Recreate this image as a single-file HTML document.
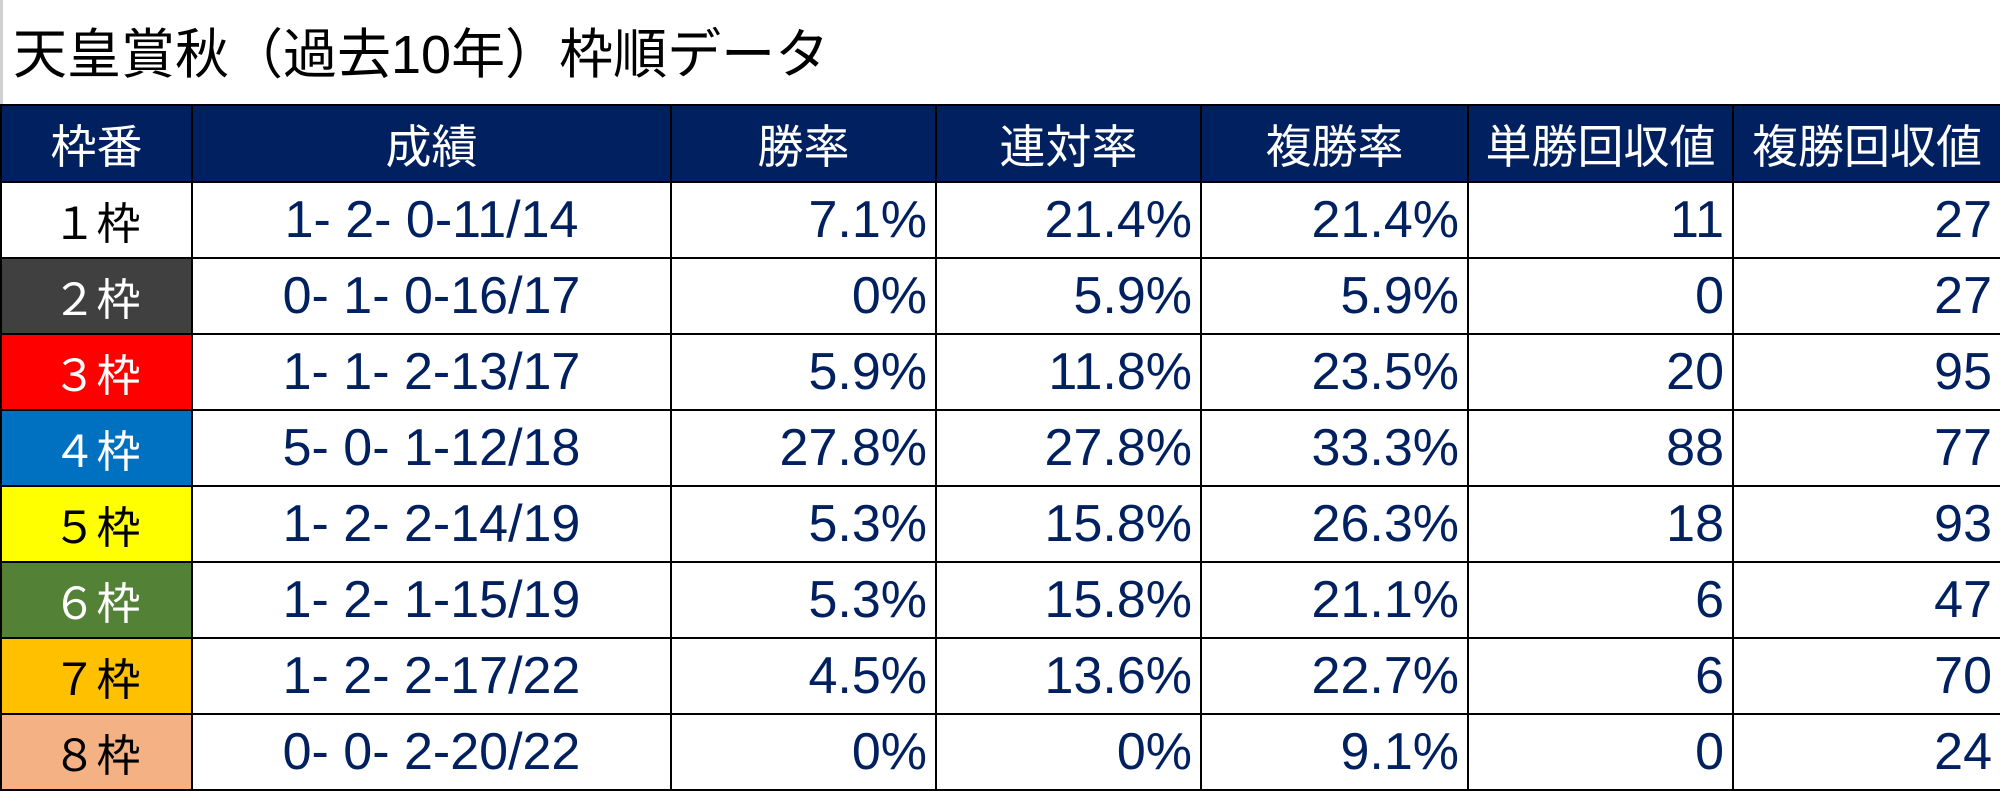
<!DOCTYPE html>
<html><head><meta charset="utf-8"><style>
html,body{margin:0;padding:0;background:#fff;width:2000px;height:790px;overflow:hidden}
.title{position:absolute;left:0;top:0;width:2000px;height:104px;border-left:3px solid #d0d0d0;box-sizing:border-box}
.title span{position:absolute;left:10px;top:10px;font:54px "Liberation Sans","Noto Sans CJK JP",sans-serif;color:#000;white-space:nowrap}
table{position:absolute;left:0;top:104px;border-collapse:collapse;table-layout:fixed;width:2000px}
td,th{border:2px solid #000;height:72px;padding:0 8px;box-sizing:border-box;font:52px "Liberation Sans","Noto Sans CJK JP",sans-serif;color:#002060;text-align:right;white-space:nowrap;overflow:hidden}
th{background:#002060;color:#fff;text-align:center;font-weight:normal;height:77px;font-size:46px;padding:0 2px}
td.f{text-align:center;color:#000;font-size:44px}
td.c{text-align:center}
tr{height:76px}
</style></head><body>
<div class="title"><span>天皇賞秋（過去10年）枠順データ</span></div>
<table>
<colgroup><col style="width:191px"><col style="width:479px"><col style="width:265px"><col style="width:265px"><col style="width:267px"><col style="width:265px"><col style="width:268px"></colgroup>
<tr><th>枠番</th><th>成績</th><th>勝率</th><th>連対率</th><th>複勝率</th><th>単勝回収値</th><th>複勝回収値</th></tr>
<tr><td class="f" style="background:#fff">１枠</td><td class="c">1- 2- 0-11/14</td><td>7.1%</td><td>21.4%</td><td>21.4%</td><td>11</td><td>27</td></tr>
<tr><td class="f" style="background:#404040;color:#fff">２枠</td><td class="c">0- 1- 0-16/17</td><td>0%</td><td>5.9%</td><td>5.9%</td><td>0</td><td>27</td></tr>
<tr><td class="f" style="background:#ff0000;color:#fff">３枠</td><td class="c">1- 1- 2-13/17</td><td>5.9%</td><td>11.8%</td><td>23.5%</td><td>20</td><td>95</td></tr>
<tr><td class="f" style="background:#0070c0;color:#fff">４枠</td><td class="c">5- 0- 1-12/18</td><td>27.8%</td><td>27.8%</td><td>33.3%</td><td>88</td><td>77</td></tr>
<tr><td class="f" style="background:#ffff00">５枠</td><td class="c">1- 2- 2-14/19</td><td>5.3%</td><td>15.8%</td><td>26.3%</td><td>18</td><td>93</td></tr>
<tr><td class="f" style="background:#538135;color:#fff">６枠</td><td class="c">1- 2- 1-15/19</td><td>5.3%</td><td>15.8%</td><td>21.1%</td><td>6</td><td>47</td></tr>
<tr><td class="f" style="background:#ffc000">７枠</td><td class="c">1- 2- 2-17/22</td><td>4.5%</td><td>13.6%</td><td>22.7%</td><td>6</td><td>70</td></tr>
<tr><td class="f" style="background:#f4b183">８枠</td><td class="c">0- 0- 2-20/22</td><td>0%</td><td>0%</td><td>9.1%</td><td>0</td><td>24</td></tr>
</table>
</body></html>
